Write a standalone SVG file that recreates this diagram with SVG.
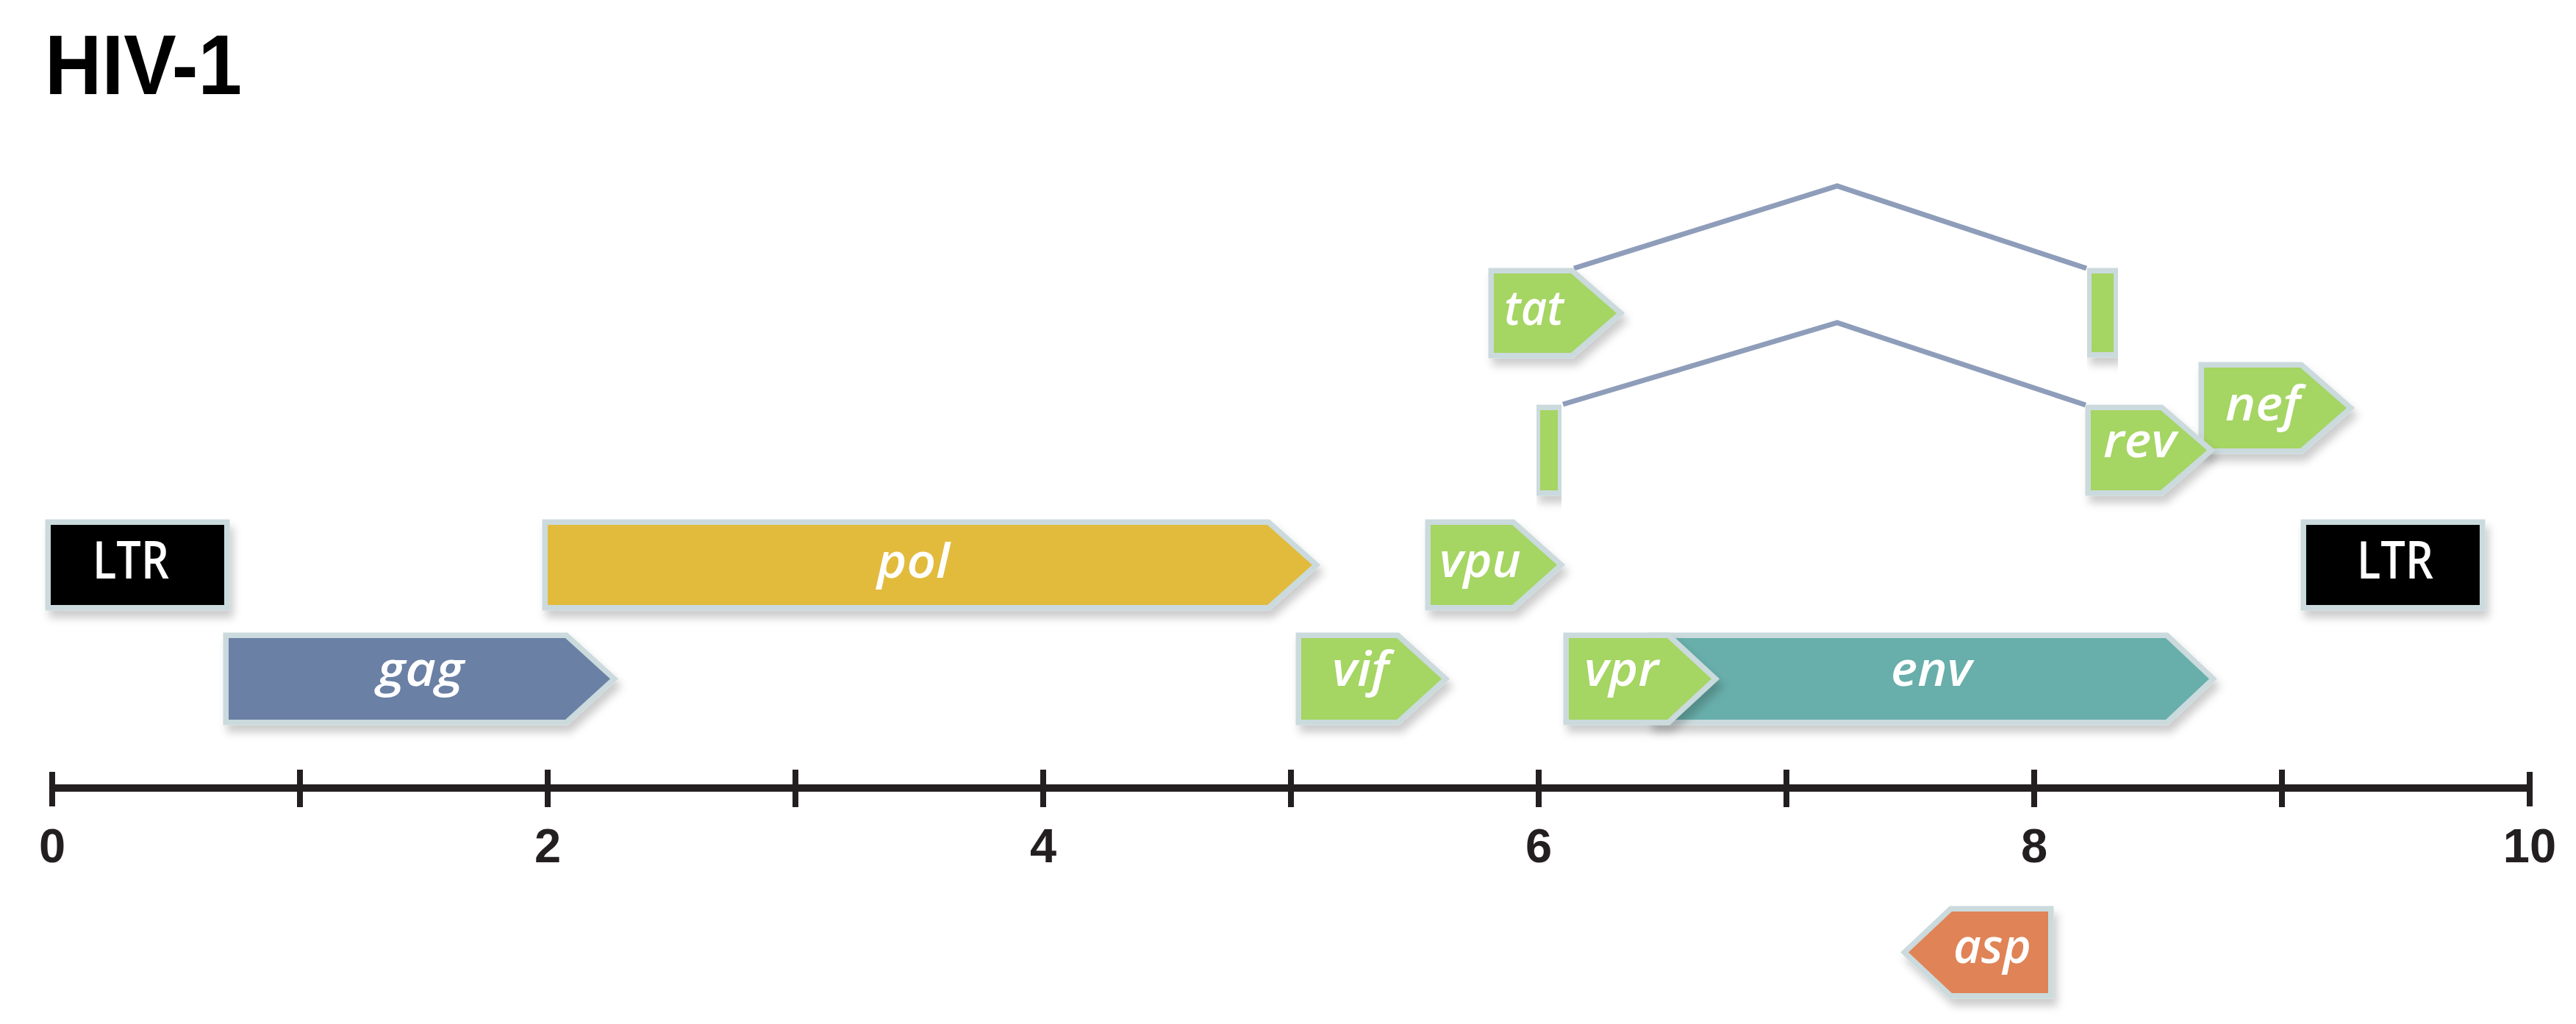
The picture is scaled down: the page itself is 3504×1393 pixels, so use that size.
<svg xmlns="http://www.w3.org/2000/svg" width="3504" height="1393" viewBox="0 0 3504 1393">
<defs>
<filter id="sh" x="-20%" y="-30%" width="140%" height="170%">
<feDropShadow dx="5" dy="10" stdDeviation="6" flood-color="#000" flood-opacity="0.2"/>
</filter>
<style>
.box{stroke:#cbdadd;stroke-width:15;paint-order:stroke;stroke-linejoin:miter;stroke-miterlimit:6}
.ltr{fill:#000}
.gag{fill:#6b80a5}
.pol{fill:#e2bb3e}
.grn{fill:#a5d563}
.env{fill:#67aeaa}
.asp{fill:#e08357}
.lab{font-family:"Open Sans","Liberation Sans",sans-serif;font-style:italic;font-weight:600;font-size:66px;fill:#fff}
.ltrt{font-family:"Open Sans","Liberation Sans",sans-serif;font-weight:600;font-size:70px;fill:#fff}
.num{font-family:"Liberation Sans",Arial,sans-serif;font-weight:bold;font-size:65px;fill:#231f20;text-anchor:middle}
.splice{fill:none;stroke:#8e9db9;stroke-width:7;stroke-linejoin:miter}
.axis{stroke:#231f20;fill:none}
</style>
</defs>
<rect width="3504" height="1393" fill="#fff"/>
<text id="title" x="61" y="128" font-family="Liberation Sans, Arial, sans-serif" font-weight="bold" font-size="115" fill="#000" textLength="268" lengthAdjust="spacingAndGlyphs">HIV-1</text>

<g id="connectors">
<polyline class="splice" points="2141,365 2499,253 2838,365"/>
<polyline class="splice" points="2126,550 2499,439 2837,551"/>
</g>

<g id="axis">
<line class="axis" x1="71" y1="1072" x2="3441" y2="1072" stroke-width="10"/>
<g stroke="#231f20" stroke-width="8">
<line x1="71" y1="1050" x2="71" y2="1097"/>
<line x1="408" y1="1047" x2="408" y2="1098"/>
<line x1="745" y1="1047" x2="745" y2="1098"/>
<line x1="1082" y1="1047" x2="1082" y2="1098"/>
<line x1="1419" y1="1047" x2="1419" y2="1098"/>
<line x1="1756" y1="1047" x2="1756" y2="1098"/>
<line x1="2093" y1="1047" x2="2093" y2="1098"/>
<line x1="2430" y1="1047" x2="2430" y2="1098"/>
<line x1="2767" y1="1047" x2="2767" y2="1098"/>
<line x1="3104" y1="1047" x2="3104" y2="1098"/>
<line x1="3441" y1="1050" x2="3441" y2="1097"/>
</g>
<text class="num" x="71" y="1173">0</text>
<text class="num" x="745" y="1173">2</text>
<text class="num" x="1419" y="1173">4</text>
<text class="num" x="2093" y="1173">6</text>
<text class="num" x="2767" y="1173">8</text>
<text class="num" x="3441" y="1173">10</text>
</g>

<g id="ltr-left" filter="url(#sh)">
<rect class="box ltr" x="69" y="714" width="236" height="109"/>
<text class="ltrt" x="126" y="787" textLength="104" lengthAdjust="spacingAndGlyphs">LTR</text>
</g>
<g id="ltr-right" filter="url(#sh)">
<rect class="box ltr" x="3137" y="714" width="236" height="109"/>
<text class="ltrt" x="3206" y="787" textLength="104" lengthAdjust="spacingAndGlyphs">LTR</text>
</g>
<g id="gag" filter="url(#sh)">
<polygon class="box gag" points="311,868 769,868 830,923.5 769,979 311,979"/>
<text class="lab" x="513" y="933" textLength="118" lengthAdjust="spacingAndGlyphs">gag</text>
</g>
<g id="pol" filter="url(#sh)">
<polygon class="box pol" points="745,714 1724,714 1785,768.5 1724,823 745,823"/>
<text class="lab" x="1193" y="786" textLength="99" lengthAdjust="spacingAndGlyphs">pol</text>
</g>
<g id="vif" filter="url(#sh)">
<polygon class="box grn" points="1770,868 1900,868 1961,923.5 1900,979 1770,979"/>
<text class="lab" x="1812" y="933" textLength="77" lengthAdjust="spacingAndGlyphs">vif</text>
</g>
<g id="vpu" filter="url(#sh)">
<polygon class="box grn" points="1946,714 2057,714 2118,768.5 2057,823 1946,823"/>
<text class="lab" x="1958" y="785" textLength="111" lengthAdjust="spacingAndGlyphs">vpu</text>
</g>
<g id="env" filter="url(#sh)">
<polygon class="box env" points="2250,868 2946,868 3005,923.5 2946,979 2250,979"/>
<text class="lab" x="2572" y="933" textLength="110" lengthAdjust="spacingAndGlyphs">env</text>
</g>
<g id="vpr" filter="url(#sh)">
<polygon class="box grn" points="2134,868 2268,868 2328,923.5 2268,979 2134,979"/>
<text class="lab" x="2155" y="933" textLength="101" lengthAdjust="spacingAndGlyphs">vpr</text>
</g>
<g id="tat" filter="url(#sh)">
<polygon class="box grn" points="2032,372 2137,372 2199,426 2137,480 2032,480"/>
<text class="lab" x="2046" y="442" textLength="81" lengthAdjust="spacingAndGlyphs">tat</text>
</g>
<g id="tat-exon2" filter="url(#sh)">
<rect class="box grn" x="2845" y="372" width="30" height="107"/>
</g>
<g id="rev-exon1" filter="url(#sh)">
<rect class="box grn" x="2095" y="558" width="24" height="109"/>
</g>
<g id="nef" filter="url(#sh)">
<polygon class="box grn" points="2998,500 3129,500 3192,555 3129,610 2998,610"/>
<text class="lab" x="3027" y="572" textLength="102" lengthAdjust="spacingAndGlyphs">nef</text>
</g>
<g id="rev" filter="url(#sh)">
<polygon class="box grn" points="2844,558 2939,558 3002,612.5 2939,667 2844,667"/>
<text class="lab" x="2861" y="622" textLength="99" lengthAdjust="spacingAndGlyphs">rev</text>
</g>
<g id="asp" filter="url(#sh)">
<polygon class="box asp" points="2786,1240 2655,1240 2596,1295.5 2655,1351 2786,1351"/>
<text class="lab" x="2657" y="1310" textLength="106" lengthAdjust="spacingAndGlyphs">asp</text>
</g>
</svg>
